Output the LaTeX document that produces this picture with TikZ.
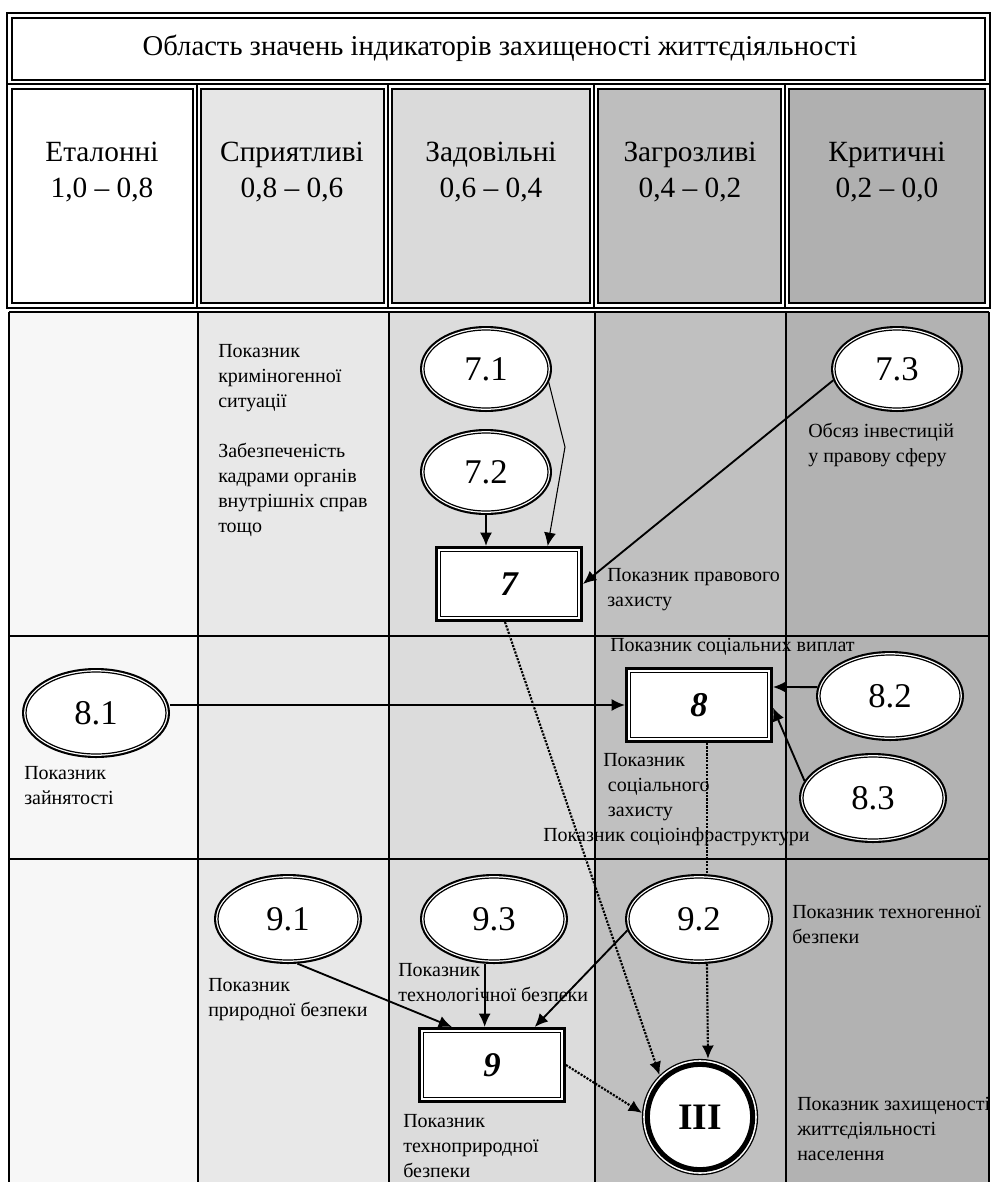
\documentclass[tikz,border=0pt]{standalone}
\usepackage{fontspec}
\setmainfont{Liberation Serif}
\usepackage{xcolor}
\definecolor{headA}{RGB}{255, 255, 255}
\definecolor{headB}{RGB}{230, 230, 230}
\definecolor{headC}{RGB}{218, 218, 218}
\definecolor{headD}{RGB}{190, 190, 190}
\definecolor{headE}{RGB}{176, 176, 176}
\definecolor{bodyA}{RGB}{247, 247, 247}
\definecolor{bodyB}{RGB}{232, 232, 232}
\definecolor{bodyC}{RGB}{220, 220, 220}
\definecolor{bodyD}{RGB}{192, 192, 192}
\definecolor{bodyE}{RGB}{178, 178, 178}
\usetikzlibrary{shapes.geometric, arrows.meta}

\begin{document}
\begin{tikzpicture}[x=0.75pt, y=-0.75pt,
    ind/.style={ellipse, draw, fill=white, line width=0.9pt,
        preaction={draw, line width=6pt}, preaction={draw=white, line width=2.8pt},
        minimum width=93pt, minimum height=58.5pt, inner sep=0pt, outer sep=3pt,
        font=\fontsize{26}{30}\selectfont},
    indbig/.style={ind, minimum width=105pt, minimum height=61.5pt},
    groupbox/.style={rectangle, draw, fill=white, line width=1pt,
        preaction={draw, line width=8.4pt}, preaction={draw=white, line width=3.4pt},
        minimum width=102.6pt, minimum height=48.6pt, inner sep=0pt, outer sep=4.2pt,
        font=\fontsize{26}{30}\selectfont\bfseries\itshape},
    result/.style={circle, draw, fill=white, line width=3.8pt,
        preaction={draw, line width=8.2pt}, preaction={draw=white, line width=6.2pt},
        minimum size=79pt, inner sep=0pt, outer sep=4.1pt,
        font=\fontsize{28}{32}\selectfont\bfseries},
    note/.style={align=left, anchor=west, inner sep=0pt, font=\fontsize{15}{18.75}\selectfont},
    head/.style={align=center, inner sep=0pt, font=\fontsize{22}{27}\selectfont},
    arr/.style={-{Latex[length=10pt,width=9pt]}, line width=1.4pt},
    thinarr/.style={-{Latex[length=10pt,width=9pt]}, line width=0.8pt},
    dotarr/.style={-{Latex[length=10pt,width=9pt]}, line width=1.6pt, densely dotted}]

    \useasboundingbox (0,0) rectangle (992,1182);
    \clip (0,0) rectangle (992,1182);
    \fill[white] (0,0) rectangle (992,1182);

    % Body columns
    \fill[bodyA] (9,312) rectangle (198,1182);
    \fill[bodyB] (198,312) rectangle (389,1182);
    \fill[bodyC] (389,312) rectangle (595,1182);
    \fill[bodyD] (595,312) rectangle (786,1182);
    \fill[bodyE] (786,312) rectangle (989,1182);
    \draw[line width=0.9pt] (9,312) -- (989,312);
    \draw[line width=0.9pt] (9,636) -- (989,636);
    \draw[line width=0.9pt] (9,859) -- (989,859);
    \draw[line width=0.9pt] (9,312) -- (9,1182);
    \draw[line width=0.9pt] (198,312) -- (198,1182);
    \draw[line width=0.9pt] (389,312) -- (389,1182);
    \draw[line width=0.9pt] (595,312) -- (595,1182);
    \draw[line width=0.9pt] (786,312) -- (786,1182);
    \draw[line width=0.9pt] (989,312) -- (989,1182);

    % Header
    \draw[line width=1.8pt] (7,13) rectangle (990,308);
    \draw[line width=0.8pt] (12,18) rectangle (985,80);
    \draw[line width=1.8pt] (7,84) -- (990,84);
    \filldraw[fill=headA, line width=0.8pt] (12,89) rectangle (193,303);
    \filldraw[fill=headB, line width=0.8pt] (201,89) rectangle (384,303);
    \filldraw[fill=headC, line width=0.8pt] (392,89) rectangle (590,303);
    \filldraw[fill=headD, line width=0.8pt] (598,89) rectangle (781,303);
    \filldraw[fill=headE, line width=0.8pt] (789,89) rectangle (985,303);
    \draw[line width=1.8pt] (197,84) -- (197,308);
    \draw[line width=1.8pt] (388,84) -- (388,308);
    \draw[line width=1.8pt] (594,84) -- (594,308);
    \draw[line width=1.8pt] (785,84) -- (785,308);

    \node[head, font=\fontsize{21.5}{27}\selectfont] (title) at (500,48) {Область значень індикаторів захищеності життєдіяльності};
    \node[head] (hA) at (102,172) {Еталонні\\1,0 – 0,8};
    \node[head] (hB) at (292,172) {Сприятливі\\0,8 – 0,6};
    \node[head] (hC) at (491,172) {Задовільні\\0,6 – 0,4};
    \node[head] (hD) at (690,172) {Загрозливі\\0,4 – 0,2};
    \node[head] (hE) at (887,172) {Критичні\\0,2 – 0,0};

    % Notes
    \node[note] (tcrim) at (218,378) {Показник\\криміногенної\\ситуації};
    \node[note] (tkadr) at (218,490) {Забезпеченість\\кадрами органів\\внутрішніх справ\\тощо};
    \node[note] (tinv) at (808,445) {Обсяз інвестицій\\у правову сферу};
    \node[note] (tprav) at (607,590) {Показник правового\\захисту};
    \node[note] (tvypl) at (610,647) {Показник соціальних виплат};
    \node[note] (tzain) at (24,786) {Показник\\зайнятості};
    \node[note] (tsoc) at (603,787) {Показник\\\hspace{3.5pt}соціального\\\hspace{3.5pt}захисту};
    \node[note] (tinfr) at (543,837) {Показник соціоінфраструктури};
    \node[note] (tpryr) at (208,1000) {Показник\\природної безпеки};
    \node[note] (ttekhl) at (398,983) {Показник\\технологічної безпеки};
    \node[note] (ttekhp) at (403,1146) {Показник\\техноприродної\\безпеки};
    \node[note] (ttekhg) at (792,925) {Показник техногенної\\безпеки};
    \node[note] (tzakh) at (797,1129) {Показник захищеності\\життєдіяльності\\населення};

    % Group 7
    \node[ind] (n71) at (486,369) {7.1};
    \node[ind] (n72) at (486,472) {7.2};
    \node[ind] (n73) at (897,369) {7.3};
    \node[groupbox] (n7) at (509,584) {7};

    % Group 8
    \node[indbig] (n81) at (96,713) {8.1};
    \node[indbig] (n82) at (890,696) {8.2};
    \node[indbig] (n83) at (873,798) {8.3};
    \node[groupbox] (n8) at (699,705) {8};

    % Group 9
    \node[indbig] (n91) at (288,919) {9.1};
    \node[indbig] (n93) at (494,919) {9.3};
    \node[indbig] (n92) at (699,919) {9.2};
    \node[groupbox] (n9) at (492,1065) {9};

    % Result
    \node[result] (III) at (700,1117) {III};

    % Connections
    \coordinate (k71) at (565,447);
    \draw[thinarr] (n71.-12) -- (k71) -- ([xshift=29pt]n7.north);
    \draw[arr] (n72.south) -- (n72.south |- n7.north);
    \draw[arr] (n73.190) -- (n7.east);
    \draw[arr] (n81.east |- n8.west) -- (n8.west);
    \draw[arr] (n82.173) -- ([yshift=13.5pt]n8.east);
    \draw[arr] (n83.166) -- ([yshift=-2pt]n8.east);
    \coordinate (t93) at ([xshift=-7pt]n93.south);
    \draw[arr] (n91.-78) -- ([xshift=-30pt]n9.north);
    \draw[arr] (t93) -- (t93 |- n9.north);
    \draw[arr] (n92.189) -- ([xshift=32pt]n9.north);
    \draw[line width=1.6pt, densely dotted] ([xshift=6pt]n8.south) -- ([xshift=6pt]n92.north);
    \draw[dotarr] ([xshift=6pt]n92.south) -- ([xshift=6pt]III.north);
    \draw[dotarr] ([xshift=-3pt]n7.south) -- (III.134);
    \draw[dotarr] (n9.east) -- (III.176);
\end{tikzpicture}
\end{document}
